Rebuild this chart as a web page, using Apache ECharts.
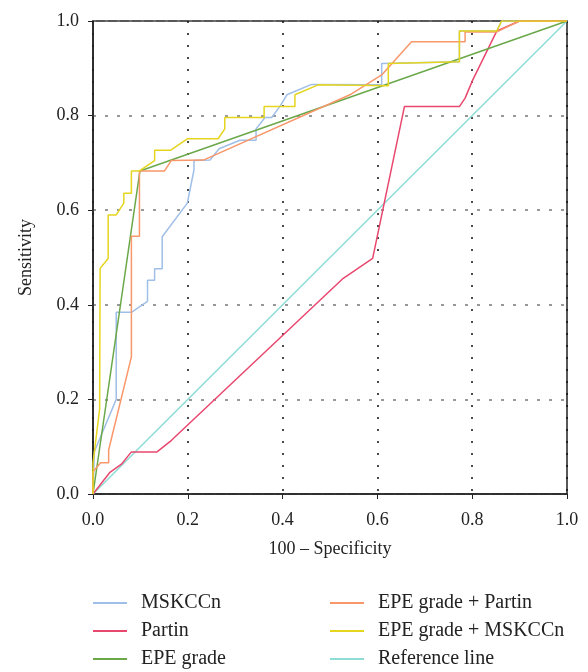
<!DOCTYPE html>
<html>
<head>
<meta charset="utf-8">
<script src="https://cdn.jsdelivr.net/npm/echarts@6/dist/echarts.min.js"></script>
<style>
  html, body { margin: 0; padding: 0; background: #fff; }
  #chart { width: 588px; height: 672px; }
</style>
</head>
<body>
<div id="chart"></div>
<script>
// ROC curves, points as [1 - specificity, sensitivity]
const mskccn = [[0, 0], [0.003, 0.09], [0.049, 0.2], [0.049, 0.384], [0.081, 0.384], [0.115, 0.407],
  [0.115, 0.452], [0.13, 0.452], [0.13, 0.476], [0.146, 0.476], [0.146, 0.544], [0.199, 0.615],
  [0.213, 0.685], [0.213, 0.705], [0.247, 0.706], [0.266, 0.73], [0.31, 0.748], [0.344, 0.748],
  [0.344, 0.772], [0.363, 0.796], [0.377, 0.796], [0.394, 0.819], [0.409, 0.844], [0.461, 0.866],
  [0.609, 0.865], [0.609, 0.91], [0.773, 0.914], [0.773, 0.979], [0.852, 0.979], [0.862, 1], [1, 1]];
const partin = [[0, 0], [0.035, 0.045], [0.06, 0.063], [0.081, 0.089], [0.135, 0.089], [0.165, 0.113],
  [0.528, 0.456], [0.59, 0.498], [0.657, 0.819], [0.773, 0.819], [0.785, 0.837], [0.801, 0.875],
  [0.852, 0.979], [0.9, 1], [1, 1]];
const epeGrade = [[0, 0], [0.099, 0.683], [1, 1]];
const epePartin = [[0, 0], [0, 0.047], [0.016, 0.066], [0.033, 0.066], [0.033, 0.093], [0.081, 0.29],
  [0.081, 0.545], [0.098, 0.545], [0.098, 0.683], [0.151, 0.683], [0.165, 0.705], [0.233, 0.706],
  [0.542, 0.844], [0.609, 0.886], [0.672, 0.956], [0.785, 0.956], [0.785, 0.977], [0.852, 0.977],
  [0.9, 1], [1, 1]];
const epeMskccn = [[0, 0], [0, 0.065], [0.014, 0.18], [0.015, 0.477], [0.032, 0.498], [0.032, 0.59],
  [0.049, 0.59], [0.065, 0.615], [0.065, 0.636], [0.081, 0.636], [0.081, 0.683], [0.098, 0.683],
  [0.13, 0.705], [0.13, 0.727], [0.164, 0.727], [0.199, 0.751], [0.264, 0.751], [0.278, 0.772],
  [0.278, 0.796], [0.361, 0.796], [0.361, 0.819], [0.426, 0.819], [0.426, 0.844], [0.475, 0.865],
  [0.623, 0.863], [0.623, 0.91], [0.773, 0.914], [0.773, 0.979], [0.852, 0.979], [0.862, 1], [1, 1]];
const referenceLine = [[0, 0], [1, 1]];

const seriesNames = ['MSKCCn', 'Partin', 'EPE grade', 'EPE grade + Partin', 'EPE grade + MSKCCn', 'Reference line'];
const seriesData = [mskccn, partin, epeGrade, epePartin, epeMskccn, referenceLine];
const seriesColors = ['#9fbfe8', '#e8486e', '#6aa84a', '#f8976a', '#e5d51f', '#8ddcd6'];

const font = 'Liberation Serif';

// two legend columns, three rows each
function makeLegend(names, left) {
    return {
        orient: 'vertical',
        left: left,
        top: 593,
        padding: 0,
        data: names,
        icon: 'rect',
        itemWidth: 34,
        itemHeight: 2,
        itemGap: 8,
        textStyle: { fontFamily: font, fontSize: 20, lineHeight: 20, color: '#222', padding: [0, 0, 0, 9] }
    };
}

const chart = echarts.init(document.getElementById('chart'));
chart.setOption({
    animation: false,
    backgroundColor: '#fff',
    grid: { left: 93, right: 21, top: 21, bottom: 178, show: true, borderColor: '#222', borderWidth: 1.5 },
    legend: [makeLegend(seriesNames.slice(0, 3), 93), makeLegend(seriesNames.slice(3), 330)],
    xAxis: {
        type: 'value', min: 0, max: 1, interval: 0.2,
        name: '100 – Specificity', nameLocation: 'middle', nameGap: 46,
        nameTextStyle: { fontFamily: font, fontSize: 18, color: '#222' },
        axisLine: { lineStyle: { color: '#222', width: 1.5 } },
        axisTick: { show: true, length: 5, lineStyle: { color: '#222' } },
        axisLabel: { fontFamily: font, fontSize: 18, color: '#222', margin: 17,
            formatter: v => v.toFixed(1) },
        splitLine: { show: true, lineStyle: { color: '#111', type: [2, 10], width: 1.5 } }
    },
    yAxis: {
        type: 'value', min: 0, max: 1, interval: 0.2,
        name: 'Sensitivity', nameLocation: 'middle', nameGap: 58,
        nameTextStyle: { fontFamily: font, fontSize: 18, color: '#222' },
        axisLine: { lineStyle: { color: '#222', width: 1.5 } },
        axisTick: { show: true, length: 5, lineStyle: { color: '#222' } },
        axisLabel: { fontFamily: font, fontSize: 18, color: '#222', margin: 14,
            formatter: v => v.toFixed(1) },
        splitLine: { show: true, lineStyle: { color: '#777', type: [3, 9], width: 1.5 } }
    },
    series: seriesNames.map((name, i) => ({
        name: name,
        type: 'line',
        data: seriesData[i],
        symbol: 'none',
        color: seriesColors[i],
        lineStyle: { width: 1.5, color: seriesColors[i] },
        z: i === 5 ? 1 : 2 + i
    }))
});
</script>
</body>
</html>
